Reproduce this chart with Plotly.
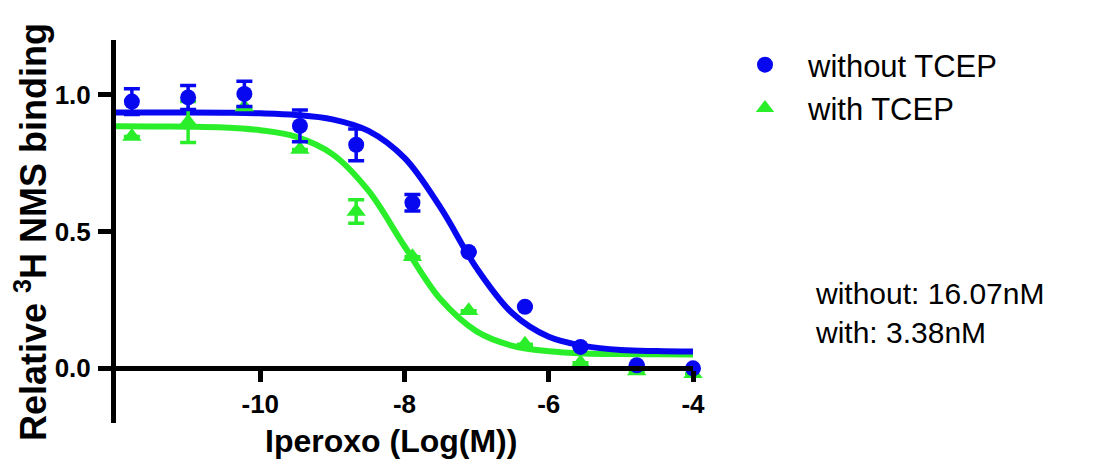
import plotly.graph_objects as go

# ---- data ----
log_conc = [-11.78, -11.0, -10.22, -9.45, -8.67, -7.89, -7.11, -6.33, -5.56, -4.78, -4.0]

without_y = [0.975, 0.99, 1.003, 0.886, 0.817, 0.605, 0.425, 0.225, 0.078, 0.011, 0.0]
without_err = [0.047, 0.044, 0.046, 0.058, 0.058, 0.03, 0.0, 0.0, 0.0, 0.0, 0.0]

with_y = [0.847, 0.90, 0.955, 0.80, 0.573, 0.408, 0.21, 0.088, 0.02, -0.01, -0.02]
with_err = [0.0, 0.075, 0.0, 0.0, 0.043, 0.0, 0.0, 0.0, 0.0, 0.0, 0.0]

# fitted curves, values
curve_x = [-12.0, -11.5, -11.0, -10.5, -10.0, -9.5, -9.0, -8.5, -8.0, -7.5, -7.0,
           -6.5, -6.0, -5.5, -5.0, -4.5, -4.0]
curve_without = [0.935, 0.935, 0.935, 0.934, 0.932, 0.926, 0.910, 0.868, 0.769, 0.587,
                 0.366, 0.200, 0.115, 0.081, 0.067, 0.063, 0.061]
curve_with = [0.885, 0.884, 0.883, 0.880, 0.870, 0.846, 0.783, 0.649, 0.446, 0.252,
              0.135, 0.082, 0.062, 0.054, 0.052, 0.051, 0.050]

x_ticks = [-10, -8, -6, -4]
x_ticktext = ["-10", "-8", "-6", "-4"]
y_ticks = [0.0, 0.5, 1.0]
y_ticktext = ["0.0", "0.5", "1.0"]

BLUE = "#0808F0"
GREEN = "#2BEE2B"
FONT = "Arial, Liberation Sans, sans-serif"

fig = go.Figure()

fig.add_trace(go.Scatter(x=curve_x, y=curve_with, mode="lines", line=dict(color=GREEN, width=6, shape="spline"),
                         showlegend=False, hoverinfo="skip", cliponaxis=False))
fig.add_trace(go.Scatter(x=curve_x, y=curve_without, mode="lines", line=dict(color=BLUE, width=6, shape="spline"),
                         showlegend=False, hoverinfo="skip", cliponaxis=False))

fig.add_trace(go.Scatter(x=log_conc, y=with_y, mode="markers", name="with TCEP",
                         marker=dict(symbol="triangle-up", size=17, color=GREEN),
                         error_y=dict(type="data", array=with_err, color=GREEN, thickness=3.5, width=8),
                         cliponaxis=False))
fig.add_trace(go.Scatter(x=log_conc, y=without_y, mode="markers", name="without TCEP",
                         marker=dict(symbol="circle", size=16, color=BLUE),
                         error_y=dict(type="data", array=without_err, color=BLUE, thickness=3.5, width=8),
                         cliponaxis=False))

L, R, T, B = 116, 407, 40, 42
W, H = 1100, 465
pw = W - L - R
ph = H - T - B

def px_x(p):
    return (p - L) / pw

def px_y(p):
    return (H - B - p) / ph

fig.update_layout(
    width=W, height=H,
    margin=dict(l=L, r=R, t=T, b=B, autoexpand=False),
    paper_bgcolor="white", plot_bgcolor="white",
    font=dict(family=FONT, color="black"),
    xaxis=dict(range=[-12, -4], showgrid=False, zeroline=False, showline=True, linecolor="black",
               linewidth=5, ticks="outside", ticklen=11, tickwidth=5, tickcolor="black",
               tickvals=x_ticks, ticktext=x_ticktext, tickfont=dict(size=26, family=FONT, weight="bold"),
               anchor="free", position=0.2 / 1.4, ticklabelstandoff=0),
    yaxis=dict(range=[-0.2, 1.2], showgrid=False, zeroline=False, showline=True, linecolor="black",
               linewidth=5, ticks="outside", ticklen=13, tickwidth=5, tickcolor="black",
               tickvals=y_ticks, ticktext=y_ticktext, tickfont=dict(size=26, family=FONT, weight="bold"),
               ticklabelstandoff=2),
    legend=dict(x=px_x(722), y=px_y(38), xanchor="left", yanchor="top", traceorder="reversed",
                font=dict(size=31, family=FONT), itemwidth=76, tracegroupgap=0,
                bgcolor="rgba(0,0,0,0)"),
    annotations=[
        dict(text="without: 16.07nM<br>with: 3.38nM", xref="paper", yref="paper",
             x=px_x(813), y=px_y(313), xanchor="left", yanchor="middle", align="left",
             showarrow=False, font=dict(size=30, family=FONT)),
        dict(text="<b>Iperoxo (Log(M))</b>", xref="paper", yref="paper",
             x=px_x(391), y=px_y(441), xanchor="center", yanchor="middle",
             showarrow=False, font=dict(size=32, family=FONT)),
        dict(text="<b>Relative <sup>3</sup>H NMS binding</b>", xref="paper", yref="paper",
             x=px_x(31), y=px_y(232), xanchor="center", yanchor="middle", textangle=-90,
             showarrow=False, font=dict(size=36, family=FONT)),
    ],
)

fig.write_html("out.html")
